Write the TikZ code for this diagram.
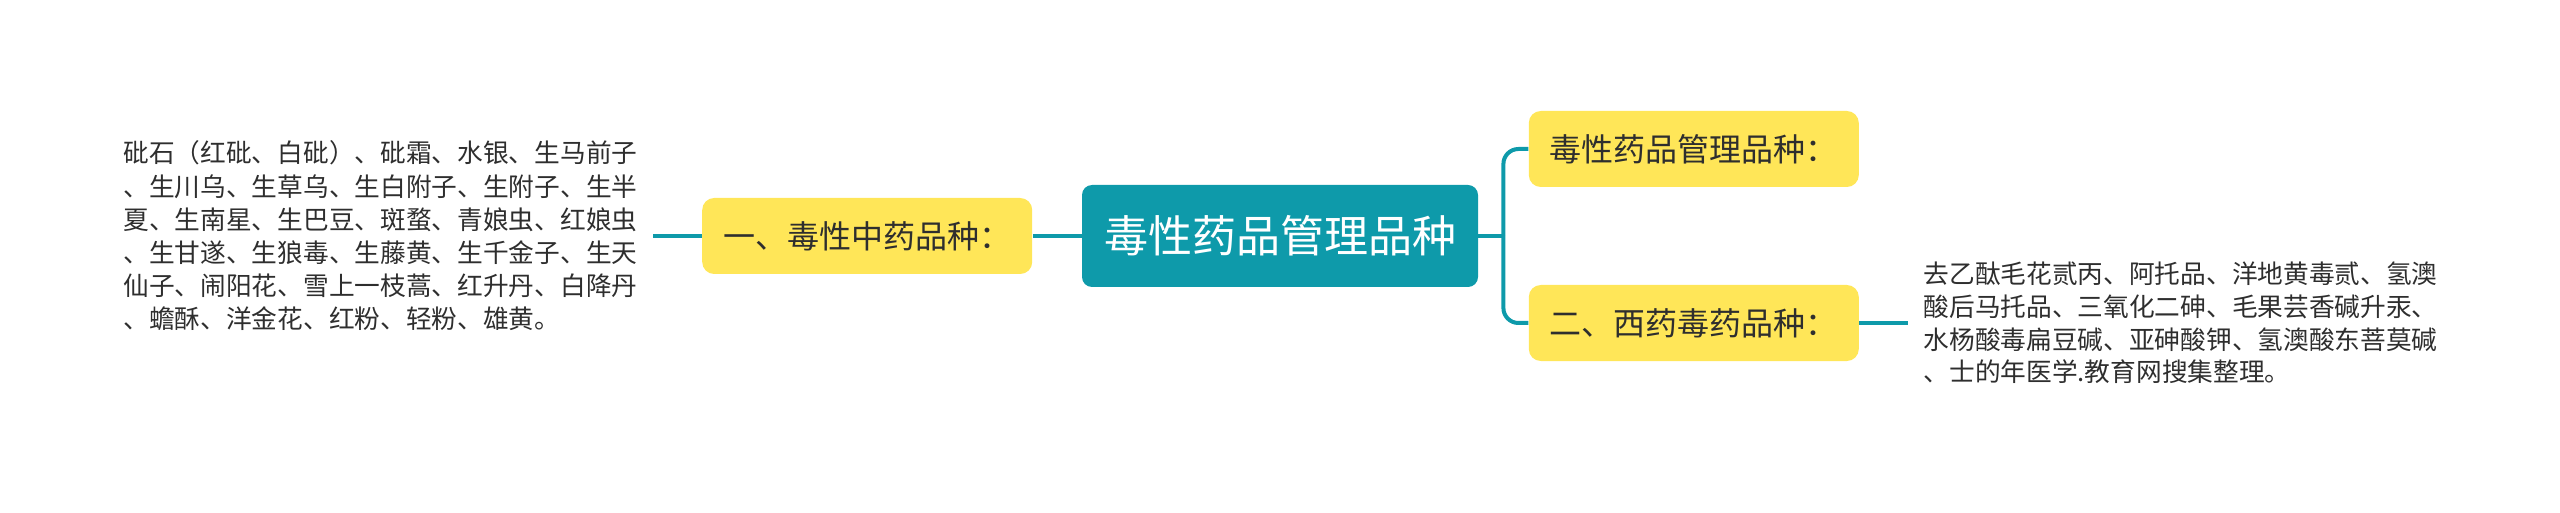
\documentclass[tikz,border=0pt]{standalone}
\usepackage{fontspec}
\newfontfamily\cjk{Noto Sans CJK SC}
\usetikzlibrary{positioning}
\definecolor{mapteal}{HTML}{0E9AAA}
\definecolor{mapyellow}{HTML}{FFE658}
\definecolor{mapink}{HTML}{2E2E2E}

\begin{document}
\begin{tikzpicture}[link/.style={draw=mapteal, line width=2pt},
    branch/.style={rectangle, rounded corners=6pt, fill=mapyellow, text=mapink,
      font=\cjk\fontsize{16}{19}\selectfont, minimum width=165pt, minimum height=38pt, inner sep=0pt},
    leaf/.style={inner xsep=7.5pt, inner ysep=2pt, align=left, text=mapink}]
  \useasboundingbox (0,0) rectangle (1280pt,-256.5pt);
  % centre topic
  \node[rectangle, rounded corners=5pt, fill=mapteal, text=white, inner sep=0pt,
    font=\cjk\fontsize{22}{26}\selectfont, minimum width=198pt, minimum height=51pt] (main) at (640pt,-118pt) {毒性药品管理品种};
  % left side
  \node[branch, left=24.5pt of main] (a) {一、毒性中药品种：};
  \node[leaf, left=24.5pt of a, font=\cjk\fontsize{12.85}{16.6}\selectfont] (b) {砒石（红砒、白砒）、砒霜、水银、生马前子\\
    、生川乌、生草乌、生白附子、生附子、生半\\
    夏、生南星、生巴豆、斑蝥、青娘虫、红娘虫\\
    、生甘遂、生狼毒、生藤黄、生千金子、生天\\
    仙子、闹阳花、雪上一枝蒿、红升丹、白降丹\\
    、蟾酥、洋金花、红粉、轻粉、雄黄。};
  % right side
  \node[branch, right=25pt of main, yshift=43.5pt] (c) {毒性药品管理品种：};
  \node[branch, right=25pt of main, yshift=-43.5pt] (d) {二、西药毒药品种：};
  \node[leaf, right=24.5pt of d, font=\cjk\fontsize{12.85}{16.3}\selectfont] (e) {去乙酞毛花贰丙、阿托品、洋地黄毒贰、氢澳\\
    酸后马托品、三氧化二砷、毛果芸香碱升汞、\\
    水杨酸毒扁豆碱、亚砷酸钾、氢澳酸东菩莫碱\\
    、士的年医学.教育网搜集整理。};
  % connectors
  \draw[link] (main.west) -- (a.east);
  \draw[link] (a.west) -- (b.east);
  \draw[link] (main.east) -- ++(12.5pt,0) coordinate (fork);
  \draw[link, rounded corners=7.5pt] (fork) |- (c.west);
  \draw[link, rounded corners=7.5pt] (fork) |- (d.west);
  \draw[link] (d.east) -- (e.west);
\end{tikzpicture}
\end{document}
